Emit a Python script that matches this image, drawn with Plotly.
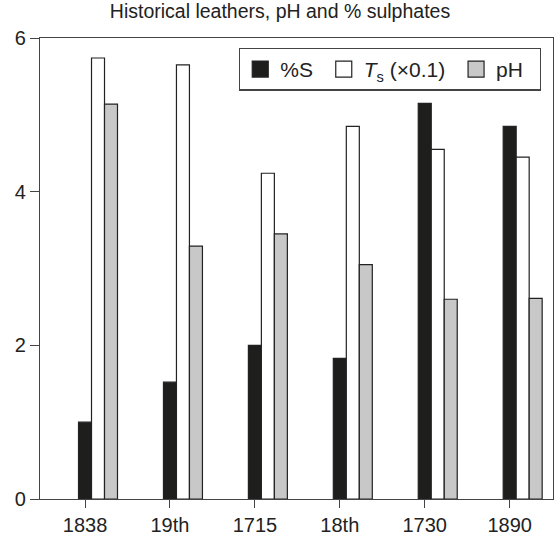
import plotly.graph_objects as go

# Leather samples and measured values
samples = ["1838", "19th", "1715", "18th", "1730", "1890"]
sulphur_pct = [1.0, 1.52, 2.0, 1.83, 5.15, 4.85]
shrink_temp_scaled = [5.74, 5.65, 4.24, 4.85, 4.55, 4.45]
ph_values = [5.14, 3.29, 3.45, 3.05, 2.60, 2.61]

bar_w = 0.153
series = [
    ("%S", sulphur_pct, "#1e1e1c", -bar_w / 2),
    ("<i>T</i><sub>s</sub> (×0.1)", shrink_temp_scaled, "#ffffff", bar_w / 2),
    ("pH", ph_values, "#c8c8c8", 3 * bar_w / 2),
]

fig = go.Figure()
for name, vals, color, off in series:
    fig.add_trace(go.Bar(
        x=samples, y=vals, name=name, showlegend=False,
        width=bar_w, offset=off,
        marker=dict(color=color, line=dict(color="#222222", width=1.2)),
    ))

# legend entries with larger square swatches
for i, (name, vals, color, off) in enumerate(series):
    pad = "  " if i == len(series) - 1 else " "
    fig.add_trace(go.Scatter(
        x=[None], y=[None], mode="markers", name=name + pad,
        marker=dict(symbol="square", size=19, color=color,
                    line=dict(color="#222222", width=1.2)),
    ))

font = "Liberation Sans, Arial, Helvetica, sans-serif"
fig.update_layout(
    width=560, height=538,
    barmode="overlay",
    margin=dict(l=40, r=7, t=38, b=39),
    paper_bgcolor="white", plot_bgcolor="white",
    font=dict(family=font, size=20, color="#222222"),
    title=dict(text="Historical leathers, pH and % sulphates",
               x=0.5, xanchor="center", y=0.992, yanchor="top",
               font=dict(size=19.5, color="#222222")),
    xaxis=dict(type="category", range=[-0.53, 5.51], automargin=False,
               showline=True, linecolor="#444444", linewidth=1.2, mirror=True,
               ticks="outside", ticklen=8, tickcolor="#444444",
               showgrid=False, tickfont=dict(size=20)),
    yaxis=dict(range=[0, 6], tickvals=[0, 2, 4, 6], automargin=False,
               showline=True, linecolor="#444444", linewidth=1.2, mirror=True,
               ticks="outside", ticklen=9, tickcolor="#444444",
               showgrid=False, zeroline=False, tickfont=dict(size=20)),
    legend=dict(orientation="h", x=0.388, xanchor="left", y=0.979, yanchor="top",
                bordercolor="#444444", borderwidth=1.2, bgcolor="white",
                font=dict(size=21), itemsizing="trace", traceorder="normal",
                tracegroupgap=0, itemwidth=30),
    showlegend=True,
)

fig.write_html("out.html")
